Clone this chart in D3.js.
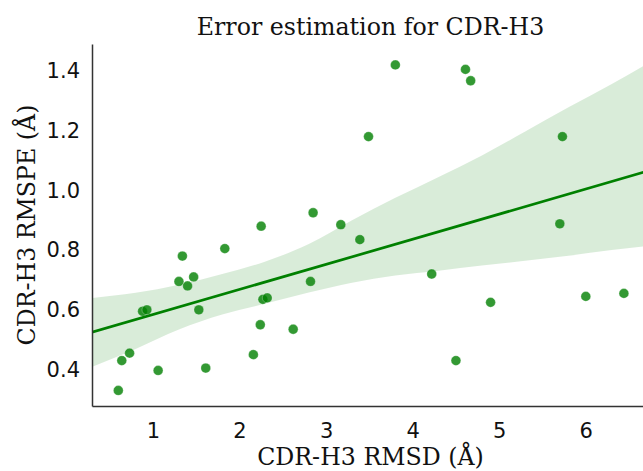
<!DOCTYPE html>
<html><head><meta charset="utf-8">
<script src="https://cdn.jsdelivr.net/npm/d3@7"></script>
<style>body{margin:0;background:#fff}svg{display:block}</style>
</head><body>
<svg id="c" width="643" height="471"></svg>
<script>
const rmsd = [0.60,0.64,0.73,0.88,0.93,1.06,1.30,1.34,1.40,1.47,1.53,1.61,1.83,2.16,2.24,2.25,2.27,2.32,2.62,2.82,2.85,3.17,3.39,3.49,3.80,4.22,4.50,4.61,4.67,4.90,5.70,5.73,6.00,6.44];
const rmspe = [0.33,0.43,0.455,0.595,0.60,0.397,0.695,0.78,0.68,0.71,0.60,0.405,0.805,0.45,0.55,0.88,0.635,0.64,0.535,0.695,0.925,0.885,0.835,1.18,1.42,0.72,0.43,1.405,1.367,0.625,0.888,1.18,0.645,0.655];
// 95% confidence band of the fit
const ciX  = [0.3, 0.8, 1.3, 1.8, 2.3, 2.8, 3.3, 3.8, 4.3, 4.8, 5.3, 5.8, 6.3, 6.75];
const ciHi = [0.640,0.657,0.684,0.720,0.762,0.820,0.900,0.975,1.045,1.117,1.197,1.278,1.356,1.430];
const ciLo = [0.409,0.469,0.534,0.584,0.621,0.658,0.691,0.715,0.731,0.748,0.764,0.781,0.800,0.815];
const xTicks = [1,2,3,4,5,6];
const yTicks = [0.4,0.6,0.8,1.0,1.2,1.4];
const title = "Error estimation for CDR-H3";
const xLabel = "CDR-H3 RMSD (Å)";
const yLabel = "CDR-H3 RMSPE (Å)";

const svg = d3.select("#c");
const L = 92, R = 649, T = 44, B = 406;
const x = d3.scaleLinear().domain([0.296, 6.73]).range([L, R]);
const y = d3.scaleLinear().domain([0.278, 1.49]).range([B, T]);

// least-squares fit line
const n = rmsd.length;
const mx = d3.mean(rmsd), my = d3.mean(rmspe);
let sxx = 0, sxy = 0;
for (let i = 0; i < n; i++) { sxx += (rmsd[i]-mx)**2; sxy += (rmsd[i]-mx)*(rmspe[i]-my); }
const b1 = sxy / sxx, b0 = my - b1*mx;
const lineX = x.domain();

svg.append("defs").append("clipPath").attr("id","clip")
  .append("rect").attr("x",L).attr("y",T).attr("width",R-L).attr("height",B-T);
const plot = svg.append("g").attr("clip-path","url(#clip)");

plot.append("path").datum(ciX.map((v,i)=>({g:v, lo:ciLo[i], hi:ciHi[i]})))
  .attr("d", d3.area().curve(d3.curveMonotoneX).x(d=>x(d.g)).y0(d=>y(d.lo)).y1(d=>y(d.hi)))
  .attr("fill","#008000").attr("fill-opacity",0.15);

plot.selectAll("circle").data(rmsd).join("circle")
  .attr("cx", d=>x(d)).attr("cy",(d,i)=>y(rmspe[i])).attr("r",4.9)
  .attr("fill","#008000").attr("fill-opacity",0.8)
  .attr("stroke","#fff").attr("stroke-opacity",0.35).attr("stroke-width",0.8);

plot.append("path").datum(lineX)
  .attr("d", d3.line().x(d=>x(d)).y(d=>y(b0 + b1*d)))
  .attr("fill","none").attr("stroke","#008000").attr("stroke-width",2.7);

// axes
const xa = svg.append("g").attr("transform",`translate(0,${B})`)
  .call(d3.axisBottom(x).tickValues(xTicks).tickSize(0).tickPadding(17).tickFormat(d3.format("d")));
const ya = svg.append("g").attr("transform",`translate(${L},0)`)
  .call(d3.axisLeft(y).tickValues(yTicks).tickSize(0).tickPadding(12).tickFormat(d3.format(".1f")));
[xa, ya].forEach(a => {
  a.select(".domain").attr("stroke","#333").attr("stroke-width",1.5);
  a.selectAll("text").attr("font-family","DejaVu Sans").attr("font-size",21).attr("fill","#111");
});

svg.append("text").attr("x",(L+R)/2).attr("y",35).attr("text-anchor","middle")
  .attr("font-family","DejaVu Serif").attr("font-size",23.7).attr("fill","#111").text(title);
svg.append("text").attr("x",(L+R)/2).attr("y",465).attr("text-anchor","middle")
  .attr("font-family","DejaVu Serif").attr("font-size",23.7).attr("fill","#111").text(xLabel);
svg.append("text").attr("transform",`translate(35,${(T+B)/2}) rotate(-90)`).attr("text-anchor","middle")
  .attr("font-family","DejaVu Serif").attr("font-size",23.7).attr("fill","#111").text(yLabel);
</script>
</body></html>
